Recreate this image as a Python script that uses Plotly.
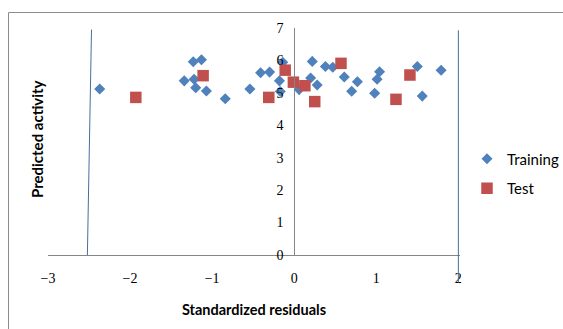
import plotly.graph_objects as go

# ---- data ----
train_x = [-2.37, -1.23, -1.13, -1.34, -1.22, -1.20, -1.07, -0.84, -0.54, -0.41,
           -0.30, -0.14, -0.18, -0.17, 0.06, 0.22, 0.20, 0.28, 0.38, 0.47,
           0.61, 0.77, 0.70, 1.04, 1.01, 0.98, 1.50, 1.56, 1.79]
train_y = [5.12, 5.96, 6.02, 5.37, 5.42, 5.16, 5.06, 4.82, 5.12, 5.62,
           5.64, 5.94, 5.37, 5.04, 5.10, 5.97, 5.46, 5.24, 5.81, 5.79,
           5.49, 5.34, 5.05, 5.65, 5.42, 4.99, 5.81, 4.90, 5.70]
test_x = [-1.93, -1.11, -0.31, -0.11, -0.01, 0.13, 0.25, 0.57, 1.24, 1.41]
test_y = [4.86, 5.53, 4.86, 5.70, 5.33, 5.22, 4.73, 5.91, 4.80, 5.55]

# boundary lines (x at top, x at bottom / y top, y bottom)
left_bound_x = [-2.47, -2.52]
left_bound_y = [6.95, 0.0]
right_bound_x = [2.0, 2.0]
right_bound_y = [6.93, -0.85]

x_ticks = [-3, -2, -1, 0, 1, 2]
y_ticks = [0, 1, 2, 3, 4, 5, 6, 7]

XMIN, XMAX = -3, 2.02
YMIN, YMAX = 0, 7

W, H = 563, 329
ML, MR, MT, MB = 48, 103, 28, 74


def ypaper(v):
    return (v - YMIN) / (YMAX - YMIN)


def px_to_paper_x(px):
    return (px - ML) / (W - ML - MR)


def px_to_paper_y(py):
    return (H - MB - py) / (H - MT - MB)


fig = go.Figure()
fig.add_trace(go.Scatter(
    x=train_x, y=train_y, mode="markers", name="Training",
    legendgroup="a",
    marker=dict(symbol="diamond", size=8.5, color="#4F81BD", line=dict(width=0)),
))
fig.add_trace(go.Scatter(
    x=test_x, y=test_y, mode="markers", name="Test",
    legendgroup="b",
    marker=dict(symbol="square", size=11.5, color="#C0504D", line=dict(width=0)),
))

shapes = []
for bx, by in ((left_bound_x, left_bound_y), (right_bound_x, right_bound_y)):
    shapes.append(dict(type="line", xref="x", yref="paper",
                       x0=bx[0], x1=bx[1], y0=ypaper(by[0]), y1=ypaper(by[1]),
                       line=dict(color="#4A6E9A", width=1)))
# chart-area frame
shapes.append(dict(type="rect", xref="paper", yref="paper",
                   x0=px_to_paper_x(8.5), x1=px_to_paper_x(600),
                   y0=px_to_paper_y(360), y1=px_to_paper_y(12.5),
                   line=dict(color="#8C8C8C", width=1), fillcolor="rgba(0,0,0,0)",
                   layer="below"))

fig.update_layout(
    width=W, height=H,
    margin=dict(l=ML, r=MR, t=MT, b=MB, pad=0, autoexpand=False),
    paper_bgcolor="white", plot_bgcolor="white",
    showlegend=True,
    legend=dict(x=px_to_paper_x(467), xanchor="left", y=px_to_paper_y(173.5),
                yanchor="middle", traceorder="grouped", tracegroupgap=7,
                font=dict(family="Lato", size=15, color="#000"),
                bgcolor="rgba(0,0,0,0)", itemwidth=30),
    shapes=shapes,
    xaxis=dict(range=[XMIN, XMAX], domain=[0, 1], tickvals=x_ticks,
               showgrid=False, zeroline=False, showline=True,
               linecolor="#868686", linewidth=1,
               ticks="outside", ticklen=10, tickcolor="rgba(0,0,0,0)",
               tickfont=dict(family="Liberation Serif", size=14, color="#000"),
               title=dict(text="Standardized residuals", standoff=20,
                          font=dict(family="Lato", size=14.5, color="#000", weight="bold"))),
    yaxis=dict(range=[YMIN, YMAX], tickvals=y_ticks,
               anchor="free", position=(0 - XMIN) / (XMAX - XMIN),
               showgrid=False, zeroline=False, showline=True,
               linecolor="#868686", linewidth=1,
               ticks="outside", ticklen=8, tickcolor="rgba(0,0,0,0)",
               tickfont=dict(family="Liberation Serif", size=14, color="#000")),
    annotations=[dict(text="<b>Predicted activity</b>", xref="paper", yref="paper",
                      x=px_to_paper_x(37), y=px_to_paper_y(139), textangle=-90,
                      showarrow=False, xanchor="center", yanchor="middle",
                      font=dict(family="Lato", size=15, color="#000"))],
)

fig.write_html("out.html")
